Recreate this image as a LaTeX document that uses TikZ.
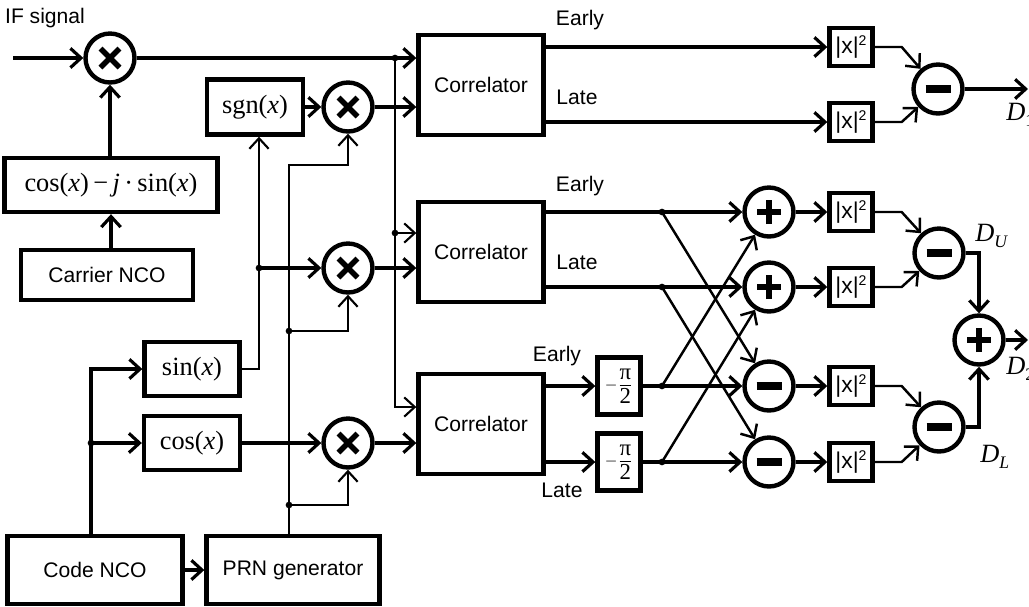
\documentclass[tikz,border=0pt]{standalone}
\usepackage{fontspec}
\setmainfont{Liberation Sans}
\newfontfamily\tms{Liberation Serif}
\usetikzlibrary{arrows.meta, positioning}

\newcommand{\fn}[1]{{\tms\fontsize{15}{18}\selectfont #1}}
\newcommand{\Dout}[1]{{\tms\fontsize{15}{18}\selectfont\textit{D}\raisebox{-0.45ex}{\fontsize{10}{12}\selectfont #1}}}
\newcommand{\sqr}{{\fontsize{13}{14}\selectfont|x|}\raisebox{0.75ex}{\fontsize{8}{9}\selectfont 2}}
\newcommand{\halfpi}{\fontsize{9}{10}\selectfont$-\displaystyle\frac{\mbox{\tms\fontsize{13}{13}\selectfont π}}{\mbox{\tms\fontsize{13}{13}\selectfont 2}}$}

\begin{document}
\begin{tikzpicture}[
    x=0.02cm, y=-0.02cm,
    on grid,
    font=\fontsize{12}{14}\selectfont,
    >={Straight Barb[length=6pt,width=11pt]},
    blockbox/.style={draw, line width=2.5pt, align=center, inner sep=0pt},
    corrbox/.style={blockbox, minimum width=2.5cm, minimum height=2cm},
    sqbox/.style={blockbox, minimum width=0.86cm, minimum height=0.76cm},
    phasebox/.style={blockbox, minimum width=0.86cm, minimum height=1.14cm},
    opcircle/.style={circle, draw, line width=2.5pt, minimum size=0.98cm, inner sep=0pt},
    mulop/.style={opcircle, path picture={
        \draw[line width=3.2pt] (path picture bounding box.center) ++(-0.19cm,-0.19cm) -- ++(0.38cm,0.38cm);
        \draw[line width=3.2pt] (path picture bounding box.center) ++(-0.19cm,0.19cm) -- ++(0.38cm,-0.38cm);}},
    addop/.style={opcircle, path picture={
        \draw[line width=3.8pt] (path picture bounding box.center) ++(-0.24cm,0) -- ++(0.48cm,0);
        \draw[line width=3.8pt] (path picture bounding box.center) ++(0,-0.24cm) -- ++(0,0.48cm);}},
    subop/.style={opcircle, path picture={
        \draw[line width=4pt] (path picture bounding box.center) ++(-0.25cm,0) -- ++(0.5cm,0);}},
    sigline/.style={line width=1.8pt, ->},
    busline/.style={line width=1.2pt},
    crossline/.style={line width=1.4pt, ->}
]
  \useasboundingbox (0,0) rectangle (1029,606);

  % Carrier wipe-off
  \node[mulop] (mixIF) at (110,58) {};
  \node[blockbox, minimum width=4.26cm, minimum height=1.08cm] (cosj) at (111,185)
    {\fn{cos(\textit{x})\,−\,\textit{j}\,·\,sin(\textit{x})}};
  \node[blockbox, minimum width=3.44cm, minimum height=1cm] (nco) at (107,275) {Carrier NCO};
  \node (iflab) at (45,18) {IF signal};
  \coordinate (in) at (13,58);

  % Code generation
  \node[blockbox, minimum width=3.5cm, minimum height=1.36cm] (code) at (95,570) {Code NCO};
  \node[blockbox, minimum width=3.46cm, minimum height=1.36cm] (prn) at (293,570) {PRN generator};
  \node[blockbox, minimum width=1.9cm, minimum height=1.08cm] (sin) at (192,369) {\fn{sin(\textit{x})}};
  \node[blockbox, minimum width=1.92cm, minimum height=1.08cm] (cosb) at (192,443) {\fn{cos(\textit{x})}};
  \node[blockbox, minimum width=1.92cm, minimum height=1.1cm] (sgn) at (255,107) {\fn{sgn(\textit{x})}};

  % Code mixers
  \node[mulop] (mixSgn) at (348,107) {};
  \node[mulop] (mixSin) at (348,268) {};
  \node[mulop] (mixCos) at (348,443) {};

  % Correlators
  \node[corrbox] (corr1) at (481,85) {Correlator};
  \node[corrbox] (corr2) [below=3.34cm of corr1] {Correlator};
  \node[corrbox] (corr3) at (481,424) {Correlator};

  % Phase shifters and combiners
  \node[phasebox] (pi1) at (619,386) {\halfpi};
  \node[phasebox] (pi2) at (619,462) {\halfpi};
  \node[addop] (plusE) at (769,212) {};
  \node[addop] (plusL) at (769,287) {};
  \node[subop] (minusE) at (769,386) {};
  \node[subop] (minusL) at (769,462) {};

  % Squarers
  \node[sqbox] (sq1) at (851,47) {\sqr};
  \node[sqbox] (sq2) at (851,122) {\sqr};
  \node[sqbox] (sqE) [right=1.64cm of plusE] {\sqr};
  \node[sqbox] (sqL) [right=1.64cm of plusL] {\sqr};
  \node[sqbox] (sqEs) [right=1.64cm of minusE] {\sqr};
  \node[sqbox] (sqLs) [right=1.64cm of minusL] {\sqr};

  % Discriminators
  \node[subop] (sub1) at (938,89) {};
  \node[subop] (subU) at (939,253) {};
  \node[subop] (subL) at (939,427) {};
  \node[addop] (addD2) at (979,340) {};

  % Labels
  \node (early1) at (580,20) {Early};
  \node (late1) at (577,97) {Late};
  \node (early2) at (580,186) {Early};
  \node (late2) at (577,262) {Late};
  \node (early3) at (557,356) {Early};
  \node (late3) at (562,490) {Late};
  \node[anchor=west, inner sep=0pt] (d1lab) at (1006,115) {\Dout{1}};
  \node[anchor=west, inner sep=0pt] (dUlab) at (975,236) {\Dout{\textit{U}}};
  \node[anchor=west, inner sep=0pt] (dLlab) at (980,457) {\Dout{\textit{L}}};
  \node[anchor=west, inner sep=0pt] (d2lab) at (1006,369) {\Dout{2}};

  % Junctions
  \coordinate (bus1) at (395,58);
  \coordinate (bus2) at (395,233);
  \coordinate (bus3) at (395,407);
  \coordinate (sbus) at (259,268);
  \coordinate (pbus) at (289,165);
  \coordinate (pj1) at (289,331);
  \coordinate (pj2) at (289,505);
  \coordinate (cbus) at (91,443);
  \coordinate (e1) at (544,47);
  \coordinate (l1) at (544,122);
  \coordinate (e2) at (544,212);
  \coordinate (l2) at (544,287);
  \coordinate (e3) at (544,386);
  \coordinate (l3) at (544,462);
  \coordinate (dE2) at (662,212);
  \coordinate (dL2) at (662,287);
  \coordinate (dE3) at (662,386);
  \coordinate (dL3) at (662,462);
  \coordinate (out1) at (1028,89);
  \coordinate (out2) at (1028,340);

  % Left side connections
  \draw[sigline] (in) -- (mixIF.west);
  \draw[sigline] (nco.north -| cosj) -- (cosj.south);
  \draw[sigline] (cosj.north -| mixIF) -- (mixIF.south);
  \draw[sigline] (mixIF.east) -- (mixIF.east -| corr1.west);
  \draw[busline, ->] (bus1) -- (bus3) -- (bus3 -| corr3.west);
  \draw[busline, ->] (bus2) -- (bus2 -| corr2.west);
  \draw[sigline] (sgn.east) -- (mixSgn.west);
  \draw[sigline] (mixSgn.east) -- (mixSgn.east -| corr1.west);
  \draw[sigline] (mixSin.east) -- (mixSin.east -| corr2.west);
  \draw[sigline] (mixCos.east) -- (mixCos.east -| corr3.west);
  \draw[sigline] (code.north -| cbus) |- (sin.west);
  \draw[sigline] (cbus) -- (cbus -| cosb.west);
  \draw[sigline] (code.east) -- (code.east -| prn.west);
  \draw[busline, ->] (sin.east) -| (sbus |- sgn.south);
  \draw[sigline] (sbus) -- (mixSin.west);
  \draw[sigline] (cosb.east) -- (mixCos.west);
  \draw[busline, ->] (prn.north -| pbus) -- (pbus) -| (mixSgn.south);
  \draw[busline, ->] (pj1) -| (mixSin.south);
  \draw[busline, ->] (pj2) -| (mixCos.south);

  % Right side connections
  \draw[sigline] (e1) -- (e1 -| sq1.west);
  \draw[sigline] (l1) -- (l1 -| sq2.west);
  \draw[sigline] (e2) -- (plusE.west);
  \draw[sigline] (l2) -- (plusL.west);
  \draw[sigline] (e3) -- (pi1.west);
  \draw[sigline] (l3) -- (pi2.west);
  \draw[sigline] (pi1.east) -- (minusE.west);
  \draw[sigline] (pi2.east) -- (minusL.west);
  \draw[crossline] (dE2) -- (minusE);
  \draw[crossline] (dL2) -- (minusL);
  \draw[crossline] (dE3) -- (plusE);
  \draw[crossline] (dL3) -- (plusL);
  \draw[sigline] (plusE.east) -- (sqE.west);
  \draw[sigline] (plusL.east) -- (sqL.west);
  \draw[sigline] (minusE.east) -- (sqEs.west);
  \draw[sigline] (minusL.east) -- (sqLs.west);
  \draw[crossline] (sq1.east) -- ++(27,0) -- (sub1);
  \draw[crossline] (sq2.east) -- ++(27,0) -- (sub1);
  \draw[crossline] (sqE.east) -- ++(27,0) -- (subU);
  \draw[crossline] (sqL.east) -- ++(27,0) -- (subU);
  \draw[crossline] (sqEs.east) -- ++(27,0) -- (subL);
  \draw[crossline] (sqLs.east) -- ++(27,0) -- (subL);
  \draw[sigline] (sub1.east) -- (out1);
  \draw[sigline] (subU.east) -| (addD2.north);
  \draw[sigline] (subL.east) -| (addD2.south);
  \draw[sigline] (addD2.east) -- (out2);

  % Dots
  \foreach \j in {bus1, bus2, sbus, pj1, pj2, cbus, dE2, dL2, dE3, dL3}
    \fill (\j) circle (1.9pt);
\end{tikzpicture}
\end{document}
